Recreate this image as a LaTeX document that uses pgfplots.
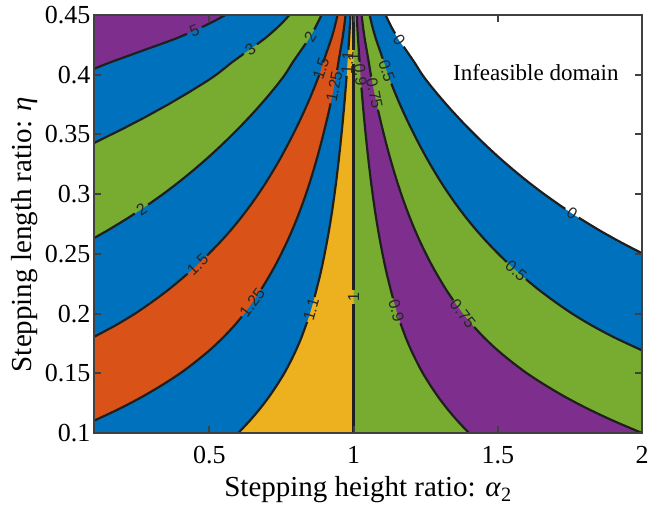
\documentclass[border=0pt]{standalone}
\usepackage{fontspec}
\setmainfont{Liberation Serif}
\newfontfamily\labfont{Liberation Sans}
\usepackage{pgfplots}
\pgfplotsset{compat=1.18}
\definecolor{mblue}{rgb}{0,0.447,0.741}
\definecolor{morange}{rgb}{0.850,0.325,0.098}
\definecolor{myellow}{rgb}{0.929,0.694,0.125}
\definecolor{mpurple}{rgb}{0.494,0.184,0.556}
\definecolor{mgreen}{rgb}{0.466,0.674,0.188}
\pgfplotsset{
  reg/.style={draw=none, smooth},
  cl/.style={draw=black!88, line width=2.2pt, smooth},
}
\tikzset{lab/.style={font=\labfont\fontsize{16}{19}\selectfont, text=black!85, inner sep=0pt}}
\begin{document}
\begin{tikzpicture}
\begin{axis}[
  scale only axis, width=548pt, height=418pt,
  xmin=0.1, xmax=2, ymin=0.1, ymax=0.45,
  xtick={0.5,1,1.5,2},
  ytick={0.1,0.15,0.2,0.25,0.3,0.35,0.4,0.45},
  yticklabels={0.1,0.15,0.2,0.25,0.3,0.35,0.4,0.45},
  xticklabels={0.5,1,1.5,2},
  tick align=inside, major tick length=7pt,
  axis line style={black!75, line width=2.5pt},
  every tick/.style={black!75, line width=2pt},
  axis on top,
  axis background/.style={fill=mblue},
  tick label style={font=\fontsize{26}{30}\selectfont},
  xticklabel style={yshift=-10pt},
  label style={font=\fontsize{29}{34}\selectfont},
  xlabel style={yshift=-5pt},
  every axis y label/.append style={at={(ticklabel cs:0.475)}},
  xlabel={Stepping height ratio: \textit{α}\textsubscript{2}},
  ylabel={Stepping length ratio: \textit{η}},
  clip=true,
]
% ================= filled regions =================
\addplot[reg, fill=mgreen] coordinates {(2,0.1692) (1.9042,0.18) (1.8264,0.19) (1.7576,0.20) (1.6974,0.21) (1.6418,0.22) (1.5917,0.23) (1.5447,0.24) (1.502,0.25) (1.4621,0.26) (1.4252,0.27) (1.3912,0.28) (1.3597,0.29) (1.3305,0.30) (1.3032,0.31) (1.2778,0.32) (1.2538,0.33) (1.2313,0.34) (1.2099,0.35) (1.1895,0.36) (1.1703,0.37) (1.1521,0.38) (1.1349,0.39) (1.119,0.40) (1.1059,0.41) (1.0917,0.42) (1.0774,0.43) (1.0655,0.44) (1.0556,0.45)} -- (axis cs:0.1,0.45) -- (axis cs:0.1,0.1) -- (axis cs:2,0.1) -- cycle;
\addplot[reg, fill=mpurple] coordinates {(2,0.1) (1.9025,0.11) (1.8143,0.12) (1.7353,0.13) (1.6649,0.14) (1.601,0.15) (1.5459,0.16) (1.496,0.17) (1.4521,0.18) (1.4132,0.19) (1.3788,0.20) (1.3487,0.21) (1.3209,0.22) (1.2959,0.23) (1.2723,0.24) (1.251,0.25) (1.231,0.26) (1.2126,0.27) (1.1956,0.28) (1.1799,0.29) (1.1652,0.30) (1.1516,0.31) (1.1389,0.32) (1.1269,0.33) (1.1156,0.34) (1.105,0.35) (1.0948,0.36) (1.0851,0.37) (1.0761,0.38) (1.0675,0.39) (1.0595,0.40) (1.053,0.41) (1.0459,0.42) (1.0387,0.43) (1.0328,0.44) (1.0278,0.45)} -- (axis cs:0.1,0.45) -- (axis cs:0.1,0.1) -- cycle;
\addplot[reg, fill=mgreen] coordinates {(1.4,0.1) (1.361,0.11) (1.3257,0.12) (1.2941,0.13) (1.266,0.14) (1.2404,0.15) (1.2183,0.16) (1.1984,0.17) (1.1808,0.18) (1.1653,0.19) (1.1515,0.20) (1.1395,0.21) (1.1284,0.22) (1.1183,0.23) (1.1089,0.24) (1.1004,0.25) (1.0924,0.26) (1.085,0.27) (1.0782,0.28) (1.0719,0.29) (1.0661,0.30) (1.0606,0.31) (1.0556,0.32) (1.0508,0.33) (1.0463,0.34) (1.042,0.35) (1.0379,0.36) (1.0341,0.37) (1.0304,0.38) (1.027,0.39) (1.0238,0.40) (1.0212,0.41) (1.0183,0.42) (1.0155,0.43) (1.0131,0.44) (1.0111,0.45)} -- (axis cs:0.1,0.45) -- (axis cs:0.1,0.1) -- cycle;
\addplot[reg, fill=myellow] coordinates {(1,0.1) (1,0.45)} -- (axis cs:0.1,0.45) -- (axis cs:0.1,0.1) -- cycle;
\addplot[reg, fill=mblue] coordinates {(0.6,0.1) (0.639,0.11) (0.6743,0.12) (0.7059,0.13) (0.734,0.14) (0.7596,0.15) (0.7817,0.16) (0.8016,0.17) (0.8192,0.18) (0.8347,0.19) (0.8485,0.20) (0.8605,0.21) (0.8716,0.22) (0.8817,0.23) (0.8911,0.24) (0.8996,0.25) (0.9076,0.26) (0.915,0.27) (0.9218,0.28) (0.9281,0.29) (0.9339,0.30) (0.9394,0.31) (0.9444,0.32) (0.9492,0.33) (0.9537,0.34) (0.958,0.35) (0.9621,0.36) (0.9659,0.37) (0.9696,0.38) (0.973,0.39) (0.9762,0.40) (0.9788,0.41) (0.9817,0.42) (0.9845,0.43) (0.9869,0.44) (0.9889,0.45)} -- (axis cs:0.1,0.45) -- (axis cs:0.1,0.1) -- cycle;
\addplot[reg, fill=morange] coordinates {(0.1,0.1103) (0.1857,0.12) (0.2647,0.13) (0.3351,0.14) (0.399,0.15) (0.4541,0.16) (0.504,0.17) (0.5479,0.18) (0.5868,0.19) (0.6212,0.20) (0.6513,0.21) (0.6791,0.22) (0.7041,0.23) (0.7277,0.24) (0.749,0.25) (0.769,0.26) (0.7874,0.27) (0.8044,0.28) (0.8201,0.29) (0.8348,0.30) (0.8484,0.31) (0.8611,0.32) (0.8731,0.33) (0.8844,0.34) (0.895,0.35) (0.9052,0.36) (0.9149,0.37) (0.9239,0.38) (0.9325,0.39) (0.9405,0.40) (0.947,0.41) (0.9541,0.42) (0.9613,0.43) (0.9672,0.44) (0.9722,0.45)} -- (axis cs:0.1,0.45) -- cycle;
\addplot[reg, fill=mblue] coordinates {(0.1,0.1805) (0.1736,0.19) (0.2424,0.20) (0.3026,0.21) (0.3582,0.22) (0.4083,0.23) (0.4553,0.24) (0.498,0.25) (0.5379,0.26) (0.5748,0.27) (0.6088,0.28) (0.6403,0.29) (0.6695,0.30) (0.6968,0.31) (0.7222,0.32) (0.7462,0.33) (0.7687,0.34) (0.7901,0.35) (0.8105,0.36) (0.8297,0.37) (0.8479,0.38) (0.8651,0.39) (0.881,0.40) (0.8941,0.41) (0.9083,0.42) (0.9226,0.43) (0.9345,0.44) (0.9444,0.45)} -- (axis cs:0.1,0.45) -- cycle;
\addplot[reg, fill=mgreen] coordinates {(0.1,0.2632) (0.1497,0.27) (0.2175,0.28) (0.2806,0.29) (0.3391,0.30) (0.3936,0.31) (0.4444,0.32) (0.4924,0.33) (0.5375,0.34) (0.5802,0.35) (0.6209,0.36) (0.6594,0.37) (0.6958,0.38) (0.7302,0.39) (0.7619,0.40) (0.7881,0.41) (0.8165,0.42) (0.8452,0.43) (0.8689,0.44) (0.8889,0.45)} -- (axis cs:0.1,0.45) -- cycle;
\addplot[reg, fill=mblue] coordinates {(0.1,0.3428) (0.1186,0.345) (0.1604,0.35) (0.2022,0.355) (0.2418,0.36) (0.2814,0.365) (0.3188,0.37) (0.3563,0.375) (0.3915,0.38) (0.4269,0.385) (0.4603,0.39) (0.4938,0.395) (0.5238,0.40) (0.5506,0.405) (0.5763,0.41) (0.6047,0.415) (0.633,0.42) (0.6622,0.425) (0.6904,0.43) (0.7151,0.435) (0.7379,0.44) (0.7587,0.445) (0.7778,0.45)} -- (axis cs:0.1,0.45) -- cycle;
\addplot[reg, fill=mpurple] coordinates {(0.1,0.4049) (0.1525,0.41) (0.2095,0.415) (0.2661,0.42) (0.3243,0.425) (0.3808,0.43) (0.4302,0.435) (0.4758,0.44) (0.5175,0.445) (0.5556,0.45)} -- (axis cs:0.1,0.45) -- cycle;
\addplot[reg, fill=white] coordinates {(2,0.2505) (1.9242,0.26) (1.8503,0.27) (1.7825,0.28) (1.7194,0.29) (1.6609,0.30) (1.6064,0.31) (1.5556,0.32) (1.5076,0.33) (1.4625,0.34) (1.4198,0.35) (1.3791,0.36) (1.3406,0.37) (1.3042,0.38) (1.2698,0.39) (1.2381,0.40) (1.2119,0.41) (1.1835,0.42) (1.1548,0.43) (1.1311,0.44) (1.1111,0.45)} -- (axis cs:2,0.45) -- cycle;
% ================= contour lines =================
\addplot[cl] coordinates {(0.1,0.4049) (0.1525,0.41) (0.2095,0.415) (0.2661,0.42) (0.3243,0.425) (0.3808,0.43) (0.4223,0.4342)};
\addplot[cl] coordinates {(0.474,0.4398) (0.5175,0.445) (0.5556,0.45)};
\addplot[cl] coordinates {(0.1,0.3428) (0.1186,0.345) (0.1604,0.35) (0.2022,0.355) (0.2418,0.36) (0.2814,0.365) (0.3188,0.37) (0.3563,0.375) (0.3915,0.38) (0.4269,0.385) (0.4603,0.39) (0.4938,0.395) (0.5238,0.40) (0.5506,0.405) (0.5763,0.41) (0.6047,0.415) (0.6194,0.4176)};
\addplot[cl] coordinates {(0.6645,0.4254) (0.6904,0.43) (0.7151,0.435) (0.7379,0.44) (0.7587,0.445) (0.7778,0.45)};
\addplot[cl] coordinates {(0.1,0.2632) (0.1497,0.27) (0.2175,0.28) (0.2415,0.2838)};
\addplot[cl] coordinates {(0.2876,0.2912) (0.3391,0.30) (0.3936,0.31) (0.4444,0.32) (0.4924,0.33) (0.5375,0.34) (0.5802,0.35) (0.6209,0.36) (0.6594,0.37) (0.6958,0.38) (0.7302,0.39) (0.7619,0.40) (0.7881,0.41) (0.8165,0.42) (0.8343,0.4262)};
\addplot[cl] coordinates {(0.8637,0.4378) (0.8889,0.45)};
\addplot[cl] coordinates {(0.1,0.1805) (0.1736,0.19) (0.2424,0.20) (0.3026,0.21) (0.3582,0.22) (0.4083,0.23) (0.4243,0.2334)};
\addplot[cl] coordinates {(0.492,0.2486) (0.5379,0.26) (0.5748,0.27) (0.6088,0.28) (0.6403,0.29) (0.6695,0.30) (0.6968,0.31) (0.7222,0.32) (0.7462,0.33) (0.7687,0.34) (0.7901,0.35) (0.8105,0.36) (0.8297,0.37) (0.8479,0.38) (0.8651,0.39) (0.8805,0.3997)};
\addplot[cl] coordinates {(0.8945,0.4103) (0.9083,0.42) (0.9226,0.43) (0.9345,0.44) (0.9444,0.45)};
\addplot[cl] coordinates {(0.1,0.1103) (0.1857,0.12) (0.2647,0.13) (0.3351,0.14) (0.399,0.15) (0.4541,0.16) (0.504,0.17) (0.5479,0.18) (0.5868,0.19) (0.6126,0.1975)};
\addplot[cl] coordinates {(0.6804,0.2205) (0.7041,0.23) (0.7277,0.24) (0.749,0.25) (0.769,0.26) (0.7874,0.27) (0.8044,0.28) (0.8201,0.29) (0.8348,0.30) (0.8484,0.31) (0.8611,0.32) (0.8731,0.33) (0.8844,0.34) (0.895,0.35) (0.9052,0.36) (0.9149,0.37) (0.9203,0.376)};
\addplot[cl] coordinates {(0.9431,0.404) (0.947,0.41) (0.9541,0.42) (0.9613,0.43) (0.9672,0.44) (0.9722,0.45)};
\addplot[cl] coordinates {(0.6,0.1) (0.639,0.11) (0.6743,0.12) (0.7059,0.13) (0.734,0.14) (0.7596,0.15) (0.7817,0.16) (0.8016,0.17) (0.8192,0.18) (0.8388,0.193)};
\addplot[cl] coordinates {(0.8649,0.214) (0.8817,0.23) (0.8911,0.24) (0.8996,0.25) (0.9076,0.26) (0.915,0.27) (0.9218,0.28) (0.9281,0.29) (0.9339,0.30) (0.9394,0.31) (0.9444,0.32) (0.9492,0.33) (0.9537,0.34) (0.958,0.35) (0.9621,0.36) (0.9659,0.37) (0.9696,0.38) (0.973,0.39) (0.9759,0.3991)};
\addplot[cl] coordinates {(0.982,0.4209) (0.9845,0.43) (0.9869,0.44) (0.9889,0.45)};
\addplot[cl] coordinates {(1,0.1) (1,0.2081)};
\addplot[cl] coordinates {(1,0.2199) (1,0.409)};
\addplot[cl] coordinates {(1,0.421) (1,0.45)};
\addplot[cl] coordinates {(1.4,0.1) (1.361,0.11) (1.3257,0.12) (1.2941,0.13) (1.266,0.14) (1.2404,0.15) (1.2183,0.16) (1.1984,0.17) (1.1808,0.18) (1.1625,0.192)};
\addplot[cl] coordinates {(1.1363,0.2129) (1.1183,0.23) (1.1089,0.24) (1.1004,0.25) (1.0924,0.26) (1.085,0.27) (1.0782,0.28) (1.0719,0.29) (1.0661,0.30) (1.0606,0.31) (1.0556,0.32) (1.0508,0.33) (1.0463,0.34) (1.042,0.35) (1.0379,0.36) (1.0341,0.37) (1.0304,0.38) (1.0273,0.3892)};
\addplot[cl] coordinates {(1.021,0.4108) (1.0183,0.42) (1.0155,0.43) (1.0131,0.44) (1.0111,0.45)};
\addplot[cl] coordinates {(2,0.1) (1.9025,0.11) (1.8143,0.12) (1.7353,0.13) (1.6649,0.14) (1.601,0.15) (1.5459,0.16) (1.496,0.17) (1.4521,0.18) (1.4179,0.1888)};
\addplot[cl] coordinates {(1.3454,0.2112) (1.3209,0.22) (1.2959,0.23) (1.2723,0.24) (1.251,0.25) (1.231,0.26) (1.2126,0.27) (1.1956,0.28) (1.1799,0.29) (1.1652,0.30) (1.1516,0.31) (1.1389,0.32) (1.1269,0.33) (1.1156,0.34) (1.105,0.35) (1.0948,0.36) (1.0845,0.3706)};
\addplot[cl] coordinates {(1.0608,0.3984) (1.053,0.41) (1.0459,0.42) (1.0387,0.43) (1.0328,0.44) (1.0278,0.45)};
\addplot[cl] coordinates {(2,0.1692) (1.9042,0.18) (1.8264,0.19) (1.7576,0.20) (1.6974,0.21) (1.6418,0.22) (1.5977,0.2288)};
\addplot[cl] coordinates {(1.531,0.2432) (1.502,0.25) (1.4621,0.26) (1.4252,0.27) (1.3912,0.28) (1.3597,0.29) (1.3305,0.30) (1.3032,0.31) (1.2778,0.32) (1.2538,0.33) (1.2313,0.34) (1.2099,0.35) (1.1895,0.36) (1.1703,0.37) (1.1521,0.38) (1.1308,0.3926)};
\addplot[cl] coordinates {(1.1011,0.4134) (1.0917,0.42) (1.0774,0.43) (1.0655,0.44) (1.0556,0.45)};
\addplot[cl] coordinates {(2,0.2505) (1.9242,0.26) (1.8503,0.27) (1.7806,0.2803)};
\addplot[cl] coordinates {(1.7339,0.2877) (1.7194,0.29) (1.6609,0.30) (1.6064,0.31) (1.5556,0.32) (1.5076,0.33) (1.4625,0.34) (1.4198,0.35) (1.3791,0.36) (1.3406,0.37) (1.3042,0.38) (1.2698,0.39) (1.2381,0.40) (1.2119,0.41) (1.1735,0.4235)};
\addplot[cl] coordinates {(1.1441,0.4345) (1.1311,0.44) (1.1111,0.45)};
% ================= contour labels =================
\node[lab, rotate=24] at (axis cs:0.4484,0.437) {5};
\node[lab, rotate=35] at (axis cs:0.6418,0.4215) {3};
\node[lab, rotate=33] at (axis cs:0.2648,0.2875) {2};
\node[lab, rotate=60] at (axis cs:0.8500,0.432) {2};
\node[lab, rotate=44] at (axis cs:0.4596,0.241) {1.5};
\node[lab, rotate=72] at (axis cs:0.8875,0.405) {1.5};
\node[lab, rotate=54] at (axis cs:0.6483,0.209) {1.25};
\node[lab, rotate=79] at (axis cs:0.9325,0.390) {1.25};
\node[lab, rotate=74] at (axis cs:0.8527,0.2035) {1.1};
\node[lab, rotate=86] at (axis cs:0.9788,0.410) {1.1};
\node[lab, rotate=90] at (axis cs:1.0,0.214) {1};
\node[lab, rotate=90] at (axis cs:1.0,0.415) {1};
\node[lab, rotate=-74] at (axis cs:1.1485,0.2025) {0.9};
\node[lab, rotate=-85] at (axis cs:1.0238,0.400) {0.9};
\node[lab, rotate=-52] at (axis cs:1.3788,0.200) {0.75};
\node[lab, rotate=-78] at (axis cs:1.0722,0.3845) {0.75};
\node[lab, rotate=-41] at (axis cs:1.5635,0.236) {0.5};
\node[lab, rotate=-72] at (axis cs:1.1151,0.403) {0.5};
\node[lab, rotate=-33] at (axis cs:1.7573,0.284) {0};
\node[lab, rotate=-55] at (axis cs:1.1577,0.429) {0};
% ================= annotation =================
\node[font=\fontsize{23}{27}\selectfont] at (axis cs:1.632,0.402) {Infeasible domain};
\end{axis}
\pgfresetboundingbox
\path[use as bounding box] (-94pt,-74pt) rectangle (554pt,433pt);
\end{tikzpicture}
\end{document}
